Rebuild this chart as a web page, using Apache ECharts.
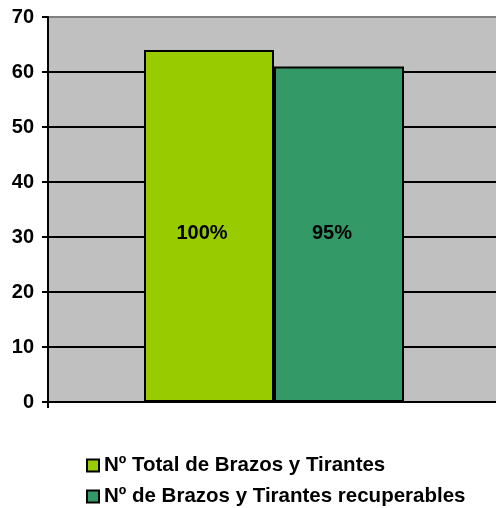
<!DOCTYPE html>
<html>
<head>
<meta charset="utf-8">
<script src="https://cdn.jsdelivr.net/npm/echarts@6/dist/echarts.min.js"></script>
<style>
  html, body { margin: 0; padding: 0; background: #ffffff; overflow: hidden; }
  /* plot area runs past the right edge of the window */
  #chart { width: 500px; height: 508px; }
</style>
</head>
<body>
<div id="chart"></div>
<script>
// Series names and values
const seriesNames = ['Nº Total de Brazos y Tirantes', 'Nº de Brazos y Tirantes recuperables'];
const totalValues = [64];
const recoverableValues = [61];
const categories = [''];
const yTicks = { min: 0, max: 70, step: 10 };

const FONT = 'Arial, "Liberation Sans", sans-serif';
const baseTotal = totalValues[0];
const pct = v => Math.round(v / baseTotal * 100) + '%';

const barLabel = {
  show: true,
  position: 'insideBottom',
  distance: 159,
  offset: [-7, 0],
  formatter: p => pct(p.value),
  color: '#000',
  fontFamily: FONT,
  fontWeight: 'bold',
  fontSize: 20
};

const chart = echarts.init(document.getElementById('chart'), null, { renderer: 'canvas' });
chart.setOption({
  animation: false,
  backgroundColor: '#ffffff',
  grid: {
    left: 48, right: 0, top: 17, bottom: 106,
    show: true,
    backgroundColor: '#C0C0C0',
    borderColor: '#808080',
    borderWidth: 2
  },
  xAxis: {
    type: 'category',
    data: categories,
    axisLine: { show: true, lineStyle: { color: '#000', width: 2 } },
    axisTick: { show: true, length: 6, lineStyle: { color: '#000', width: 2 } },
    axisLabel: { show: false },
    splitLine: { show: false }
  },
  yAxis: {
    type: 'value',
    min: yTicks.min, max: yTicks.max, interval: yTicks.step,
    axisLine: { show: true, lineStyle: { color: '#000', width: 2 } },
    axisTick: { show: true, length: 6, lineStyle: { color: '#000', width: 2 } },
    axisLabel: {
      color: '#000', fontFamily: FONT, fontWeight: 'bold', fontSize: 20, margin: 14
    },
    splitLine: { show: true, showMaxLine: false, lineStyle: { color: '#000', width: 2 } }
  },
  legend: {
    orient: 'vertical',
    left: 86, top: 455,
    padding: 0,
    itemWidth: 12, itemHeight: 12, itemGap: 10,
    icon: 'rect',
    textStyle: { color: '#000', fontFamily: FONT, fontWeight: 'bold', fontSize: 20.5, lineHeight: 19 },
    data: seriesNames
  },
  series: [
    {
      name: seriesNames[0], type: 'bar', data: totalValues,
      barWidth: 130, barGap: '0%',
      itemStyle: { color: '#99CC00', borderColor: '#000', borderWidth: 2 },
      label: barLabel
    },
    {
      name: seriesNames[1], type: 'bar', data: recoverableValues,
      barWidth: 130, barGap: '0%',
      itemStyle: { color: '#339966', borderColor: '#000', borderWidth: 2 },
      label: barLabel
    }
  ]
});
</script>
</body>
</html>
